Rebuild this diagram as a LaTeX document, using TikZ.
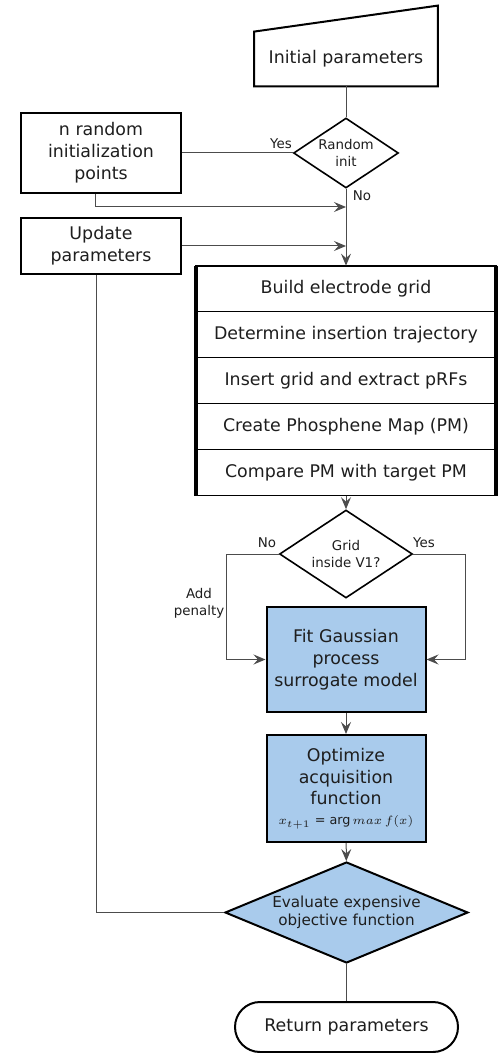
\documentclass[tikz,border=0pt]{standalone}
\usepackage{fontspec}
\setmainfont{DejaVu Sans}
\usetikzlibrary{shapes.geometric}
\usetikzlibrary{arrows.meta}

\definecolor{gpblue}{HTML}{A9CBEC}
\definecolor{inkgray}{HTML}{1E1E1E}

\begin{document}
\begin{tikzpicture}[x=0.5pt, y=-0.5pt,
    >={Stealth[length=6pt, width=5pt, inset=2.2pt]},
    font=\fontsize{8.7}{10.9}\selectfont, text=inkgray,
    box/.style={draw, line width=1pt, align=center, inner sep=0pt},
    decision/.style={diamond, draw, line width=0.8pt, align=center, inner sep=0pt,
      font=\fontsize{6.7}{8.2}\selectfont},
    row/.style={draw, line width=0.45pt, minimum width=149.5pt, minimum height=22.9pt, inner sep=0pt},
    link/.style={draw=black!70, line width=0.5pt},
    lbl/.style={font=\fontsize{6.7}{8.4}\selectfont, align=center}]
    \useasboundingbox (0,0) rectangle (498,1053);
    % Initial parameters (manual input)
    \node [minimum width=91.5pt, minimum height=27pt, inner sep=0pt] (init) at (346,59) {Initial parameters};
    \draw [line width=1pt] (init.south west) -- (init.south east) -- ([yshift=13pt]init.north east) -- (init.north west) -- cycle;
    % Random initialisation branch
    \node [decision, aspect=1.5, minimum width=52.5pt, minimum height=35pt] (rnd) at (346,153) {Random\\init};
    \node [box, minimum width=80pt, minimum height=40pt] (rndpts) at (101,153) {n random\\initialization\\points};
    \node [box, minimum width=80pt, minimum height=28pt] (upd) at (101,246) {Update\\parameters};
    \node [lbl] at (281,144) {Yes};
    \node [lbl] at (362,196) {No};
    \coordinate (j1) at (346,207);
    \draw [link] (init) -- (rnd);
    \draw [link] (rnd.west) -- (rndpts.east);
    \draw [link, ->] ([xshift=-3pt]rndpts.south) |- (j1);
    \draw [link, ->] (upd.east) -- (upd.east -| rnd.south);
    % Simulation steps
    \node [row] (row1) at (346,289) {Build electrode grid};
    \node [row] (row2) at (346,334.8) {Determine insertion trajectory};
    \node [row] (row3) at (346,380.6) {Insert grid and extract pRFs};
    \node [row] (row4) at (346,426.4) {Create Phosphene Map (PM)};
    \node [row] (row5) at (346,472.2) {Compare PM with target PM};
    \draw [line width=0.9pt] (row1.north west) rectangle (row5.south east);
    \draw [line width=2.4pt] (row1.north west) -- (row5.south west);
    \draw [line width=2.4pt] (row1.north east) -- (row5.south east);
    \draw [link, ->] (rnd.south) -- (row1.north);
    % Validity check
    \node [decision, aspect=1.5, minimum width=66.5pt, minimum height=44pt] (grid) at (346,554) {Grid\\inside V1?};
    \node [lbl] at (267,543) {No};
    \node [lbl] at (424,543) {Yes};
    \node [lbl] at (199,603) {Add\\penalty};
    \draw [link, ->] (row5.south) -- (grid.north);
    % Bayesian optimisation
    \node [box, fill=gpblue, minimum width=79.5pt, minimum height=52.5pt] (gp) at (346,659.5) {Fit Gaussian\\process\\surrogate model};
    \node [box, fill=gpblue, minimum width=79.5pt, minimum height=53.5pt] (opt) at (346,788.5)
      {Optimize\\acquisition\\function\\[-1pt]{\fontsize{6.4}{8}\selectfont$x_{t+1}$ = arg\,$max\,f(x)$}};
    \node [diamond, draw, line width=1pt, fill=gpblue, aspect=2.4, inner sep=0pt, align=center,
      minimum width=121.5pt, minimum height=50.5pt, font=\fontsize{7.6}{9.2}\selectfont] (eval) at (346.5,912.5)
      {Evaluate expensive\\objective function};
    \draw [link, ->] (grid.west) -- ++(-52,0) |- (gp.west);
    \draw [link, ->] (grid.east) -- ++(52,0) |- (gp.east);
    \draw [link, ->] (gp) -- (opt);
    \draw [link, ->] (opt) -- (eval);
    \draw [link] (eval.west) -| ([xshift=-2.5pt]upd.south);
    % Result
    \node [draw, line width=1pt, rounded corners=12.5pt, minimum width=111.5pt, minimum height=25pt] (ret) at (346.5,1027) {Return parameters};
    \draw [link] (eval) -- (ret);
\end{tikzpicture}
\end{document}
